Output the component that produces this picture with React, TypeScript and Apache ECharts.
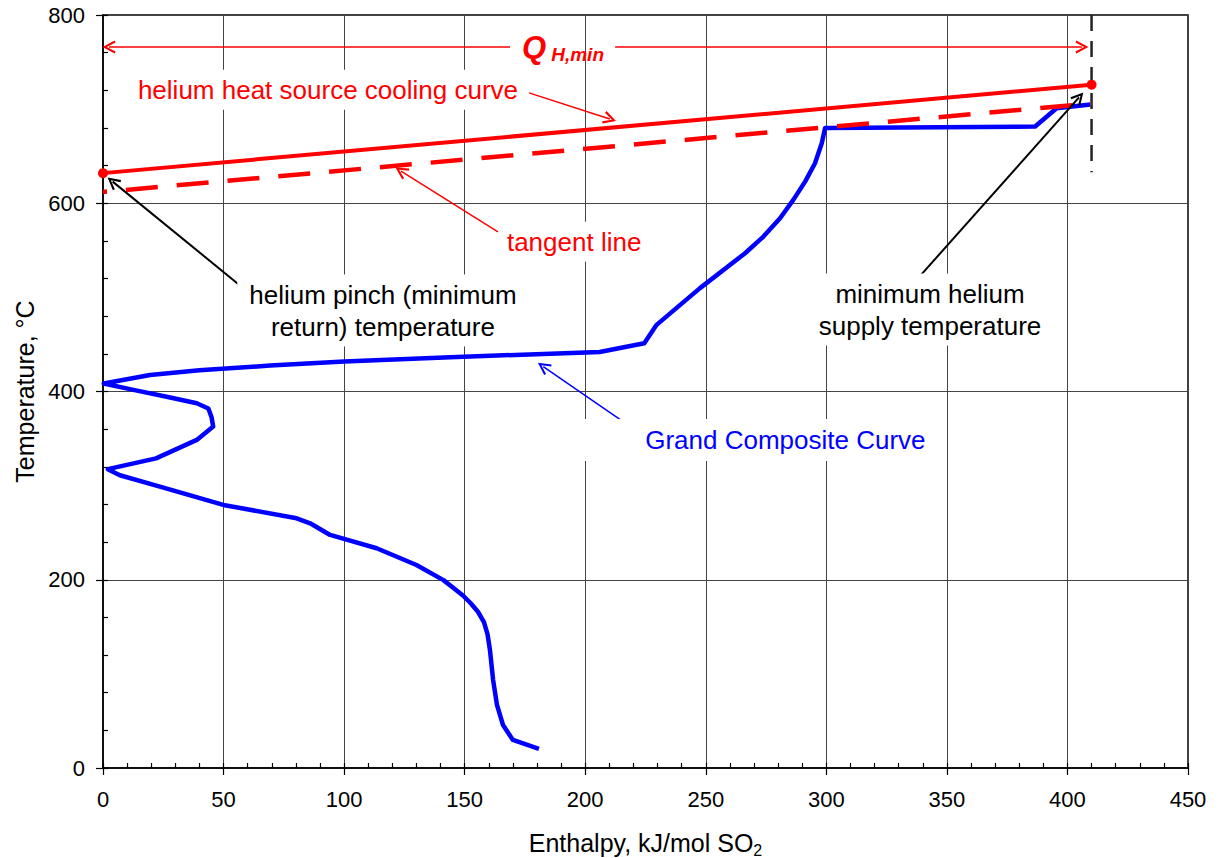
import { useEffect, useRef } from 'react';
import * as echarts from 'echarts';

// Grand composite curve (enthalpy, kJ/mol SO2 vs temperature, °C)
const gccEnthalpy = [
  180.8, 170, 165.9, 163.4, 161.8, 160.5, 159.5, 158, 155.5, 152.5, 149.4, 145.5, 141.2, 130, 113.5, 94.2,
  85.9, 80.3, 49.9, 23.6, 7, 2, 22, 38.9, 45.7, 45, 43.7, 38.9, 26.4, 12.6, 0.3,
  19.5, 40, 69.3, 100, 144, 206, 224.5, 229.6, 247.6, 266.3, 273.9, 280.8, 286.3,
  291.2, 295.3, 298.1, 299.5, 386.6, 395.5, 409.5,
];
const gccTemperature = [
  20.2, 29.8, 45.7, 67, 93.5, 125, 142, 155, 166, 175, 183, 191, 199.6, 215.7, 233.5, 247.6,
  260, 265.3, 279.5, 299, 311, 317.5, 329, 348.6, 362.7, 373, 382, 387.5, 394.5, 401.7, 408.5,
  417.5, 422.5, 427.5, 432, 436.5, 442, 451.3, 470.8, 509.8, 546.9, 564.6, 584, 603.6,
  623, 642.5, 663.7, 680, 681.5, 701, 705,
];

// Helium heat source cooling curve and its tangent line
const heliumEnthalpy = [0, 410];
const heliumTemperature = [632, 726];
const tangentTemperature = [612, 706];

// Minimum helium supply marker (vertical dashed line)
const supplyEnthalpy = 410;
const supplyMarkerTemperature = [800, 633];

// Q_H,min span
const qSpanTemperature = 766;
const qArrowLeft = [[168.8, 2.5]];
const qArrowRight = [[212.4, 406]];

// Annotation arrows: [tailX, tailY, headX, headY]
const redArrows = [
  [176.7, 717.3, 210.2, 689.5],
  [163.8, 569.6, 123.6, 634.2],
];
const blackArrows = [
  [60.1, 505.8, 4.0, 623],
  [338.9, 522.8, 404.8, 712.5],
];
const blueArrows = [[220.7, 359.2, 182.6, 426.5]];

const FONT = "'Liberation Sans', Arial, Helvetica, sans-serif";
const ARROW_HEAD = 'path://M10,0 L20,20 L17,21.5 L10,7 L3,21.5 L0,20 Z';

function arrowSeries(arrows: number[][], color: string, width: number) {
  return {
    type: 'lines',
    coordinateSystem: 'cartesian2d',
    silent: true,
    symbol: ['none', ARROW_HEAD],
    symbolSize: [11, 13],
    lineStyle: { color, width, opacity: 1, curveness: 0 },
    data: arrows.map((a) => ({ coords: [[a[0], a[1]], [a[2], a[3]]] })),
    z: 4,
  };
}

function textLabel(
  x: number,
  y: number,
  text: string,
  color: string,
  padding: number[] = [4, 10, 4, 10],
) {
  return {
    value: [x, y],
    label: {
      show: true,
      position: 'inside',
      formatter: text,
      color,
      opacity: 1,
      fontSize: 26,
      fontFamily: FONT,
      lineHeight: 32,
      align: 'center',
      verticalAlign: 'middle',
      backgroundColor: '#ffffff',
      padding,
    },
  };
}

export default function App() {
  const ref = useRef<HTMLDivElement>(null);

  useEffect(() => {
    if (!ref.current) return;
    const chart = echarts.init(ref.current, null, { renderer: 'svg' });

    const gccData = gccEnthalpy.map((x, i) => [x, gccTemperature[i]]);
    const heliumData = heliumEnthalpy.map((x, i) => [x, heliumTemperature[i]]);
    const tangentData = heliumEnthalpy.map((x, i) => [x, tangentTemperature[i]]);
    const supplyData = supplyMarkerTemperature.map((t) => [supplyEnthalpy, t]);

    const qArrows = [
      [qArrowLeft[0][0], qSpanTemperature, qArrowLeft[0][1], qSpanTemperature],
      [qArrowRight[0][0], qSpanTemperature, qArrowRight[0][1], qSpanTemperature],
    ];

    const tickStyle = { color: '#000', width: 1.2 };

    chart.setOption({
      animation: false,
      backgroundColor: '#ffffff',
      grid: {
        left: 103,
        top: 15,
        right: 31,
        bottom: 90,
        show: true,
        containLabel: false,
        outerBoundsMode: 'none',
        borderColor: '#000',
        borderWidth: 1.5,
      },
      xAxis: [
        {
          type: 'value',
          min: 0,
          max: 450,
          interval: 50,
          axisLine: { show: true, onZero: false, lineStyle: { color: '#000', width: 1.5 } },
          axisTick: { show: true, length: 7, lineStyle: tickStyle },
          axisLabel: { fontSize: 22, color: '#000', margin: 20, fontFamily: FONT },
          splitLine: { show: true, lineStyle: { color: '#444', width: 1 } },
          name: '{a|Enthalpy, kJ/mol SO}{b|2}',
          nameLocation: 'middle',
          nameGap: 60,
          nameTextStyle: {
            rich: {
              a: { fontSize: 25, fontFamily: FONT, color: '#000', lineHeight: 30 },
              b: {
                fontSize: 16,
                fontFamily: FONT,
                color: '#000',
                verticalAlign: 'bottom',
                lineHeight: 18,
              },
            },
          },
        },
        {
          type: 'value',
          min: 0,
          max: 450,
          interval: 10,
          position: 'bottom',
          axisLine: { show: false },
          axisTick: { show: true, inside: true, length: 5, lineStyle: tickStyle },
          axisLabel: { show: false },
          splitLine: { show: false },
        },
      ],
      yAxis: [
        {
          type: 'value',
          min: 0,
          max: 800,
          interval: 200,
          axisLine: { show: true, onZero: false, lineStyle: { color: '#000', width: 1.5 } },
          axisTick: { show: true, length: 7, lineStyle: tickStyle },
          axisLabel: { fontSize: 22, color: '#000', margin: 18, fontFamily: FONT },
          splitLine: { show: true, lineStyle: { color: '#444', width: 1 } },
          name: 'Temperature, °C',
          nameLocation: 'middle',
          nameGap: 66,
          nameTextStyle: { fontSize: 25, fontFamily: FONT, color: '#000' },
        },
        {
          type: 'value',
          min: 0,
          max: 800,
          interval: 40,
          position: 'left',
          axisLine: { show: false },
          axisTick: { show: true, inside: true, length: 5, lineStyle: tickStyle },
          axisLabel: { show: false },
          splitLine: { show: false },
        },
      ],
      series: [
        {
          name: 'Grand Composite Curve',
          type: 'line',
          data: gccData,
          showSymbol: false,
          symbol: 'none',
          lineStyle: { color: '#0000ff', width: 4.5, join: 'round' },
          z: 2,
        },
        {
          name: 'tangent line',
          type: 'line',
          data: tangentData,
          showSymbol: false,
          symbol: 'none',
          lineStyle: { color: '#ff0000', width: 4.5, type: [32, 19], dashOffset: 28 },
          z: 3,
        },
        {
          name: 'helium heat source cooling curve',
          type: 'line',
          data: heliumData,
          symbol: 'circle',
          symbolSize: 10,
          showSymbol: true,
          itemStyle: { color: '#ff0000' },
          lineStyle: { color: '#ff0000', width: 4 },
          z: 3,
        },
        {
          name: 'minimum helium supply',
          type: 'line',
          data: supplyData,
          showSymbol: false,
          symbol: 'none',
          lineStyle: { color: '#222', width: 2.5, type: [16, 10] },
          z: 2,
        },
        arrowSeries(qArrows, '#ff0000', 1.5),
        arrowSeries(redArrows, '#ff0000', 1.5),
        arrowSeries(blackArrows, '#000000', 2),
        arrowSeries(blueArrows, '#0000ff', 1.5),
        {
          type: 'scatter',
          silent: true,
          symbolSize: 1,
          itemStyle: { color: 'rgba(0,0,0,0)', opacity: 1 },
          z: 5,
          data: [
            textLabel(93.3, 720.5, 'helium heat source cooling curve', '#ff0000', [4, 8, 4, 8]),
            textLabel(195.4, 559, 'tangent line', '#ff0000', [4, 8, 4, 8]),
            textLabel(116.1, 486, 'helium pinch (minimum\nreturn) temperature', '#000000', [4, 12, 4, 12]),
            textLabel(343, 487, 'minimum helium\nsupply temperature', '#000000', [4, 12, 4, 12]),
            textLabel(271, 348.6, 'Grand Composite Curve', '#0000ff', [5, 10, 5, 68]),
            {
              value: [190.8, qSpanTemperature],
              label: {
                show: true,
                position: 'inside',
                formatter: '{q|Q}{s|H,min}',
                align: 'center',
                verticalAlign: 'middle',
                opacity: 1,
                rich: {
                  q: {
                    fontSize: 31,
                    fontWeight: 'bold',
                    fontStyle: 'italic',
                    fontFamily: FONT,
                    color: '#ff0000',
                    lineHeight: 34,
                    padding: [0, 5, 0, 0],
                  },
                  s: {
                    fontSize: 19,
                    fontWeight: 'bold',
                    fontStyle: 'italic',
                    fontFamily: FONT,
                    color: '#ff0000',
                    lineHeight: 20,
                    verticalAlign: 'bottom',
                  },
                },
              },
            },
          ],
        },
      ],
    });

    return () => chart.dispose();
  }, []);

  return (
    <div
      ref={ref}
      style={{ position: 'absolute', left: 0, top: 0, width: 1219, height: 858, background: '#fff' }}
    />
  );
}
